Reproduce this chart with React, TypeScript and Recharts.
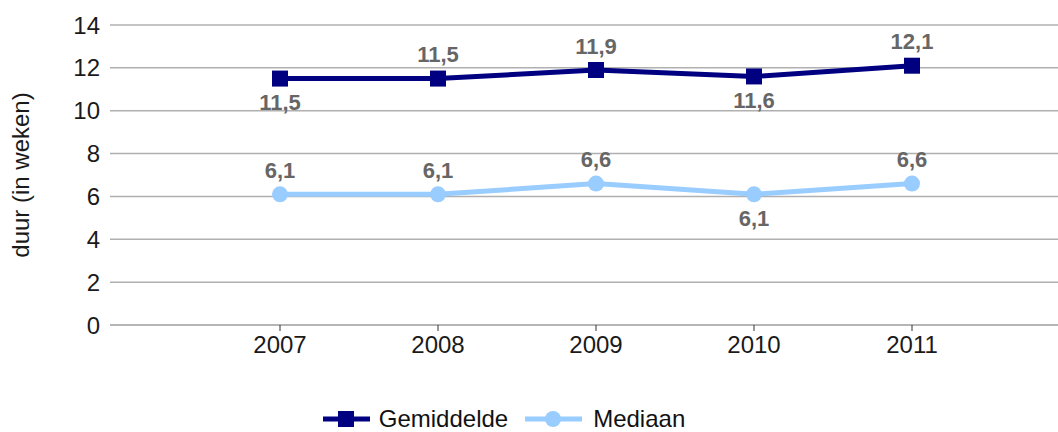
import React from "react";
import {
  LineChart,
  Line,
  XAxis,
  YAxis,
  CartesianGrid,
  Legend,
  Label,
} from "recharts";

const years = ["2007", "2008", "2009", "2010", "2011"];
const gemiddelde = [11.5, 11.5, 11.9, 11.6, 12.1];
const mediaan = [6.1, 6.1, 6.6, 6.1, 6.6];
const yTicks = [0, 2, 4, 6, 8, 10, 12, 14];

// where each value label sits relative to its point
const gemLabelSide = ["below", "above", "above", "below", "above"];
const medLabelSide = ["above", "above", "above", "below", "above"];

const data = years.map((year, i) => ({
  year,
  gemiddelde: gemiddelde[i],
  mediaan: mediaan[i],
}));

const NAVY = "#000080";
const LIGHT = "#99ccff";
const FONT = "'Liberation Sans', Arial, sans-serif";

const fmt = (v: number) => v.toFixed(1).replace(".", ",");

const makeLabel = (sides: string[]) => (props: any) => {
  const { x, y, value, index } = props;
  const dy = sides[index] === "below" ? 24 : -24;
  return (
    <text
      x={x}
      y={y + dy}
      textAnchor="middle"
      dominantBaseline="central"
      fill="#666666"
      fontWeight="bold"
      fontSize={22}
      fontFamily={FONT}
    >
      {fmt(value)}
    </text>
  );
};

const SquareDot = (props: any) => {
  const { cx, cy } = props;
  return <rect x={cx - 8} y={cy - 8} width={16} height={16} fill={NAVY} />;
};

const LegendContent = () => (
  <div
    style={{
      display: "flex",
      alignItems: "center",
      justifyContent: "center",
      fontFamily: FONT,
      fontSize: 24,
      color: "#111",
    }}
  >
    <svg width={47} height={20} style={{ marginRight: 9 }}>
      <line x1={0} y1={10} x2={47} y2={10} stroke={NAVY} strokeWidth={5} />
      <rect x={15} y={2} width={16} height={16} fill={NAVY} />
    </svg>
    <span style={{ marginRight: 17 }}>Gemiddelde</span>
    <svg width={57} height={20} style={{ marginRight: 11 }}>
      <line x1={0} y1={10} x2={57} y2={10} stroke={LIGHT} strokeWidth={5} />
      <circle cx={28} cy={10} r={8} fill={LIGHT} />
    </svg>
    <span>Mediaan</span>
  </div>
);

export default function App() {
  return (
    <div style={{ width: 1058, height: 432, background: "#fff" }}>
      <style>{`body{margin:0}`}</style>
      <LineChart
        width={1058}
        height={432}
        data={data}
        margin={{ top: 25, right: 0, left: 0, bottom: 67 }}
      >
        <CartesianGrid
          vertical={false}
          stroke="#b0b0b0"
          strokeWidth={1.5}
        />
        <XAxis
          dataKey="year"
          padding={{ left: 170, right: 146 }}
          height={40}
          axisLine={{ stroke: "#b0b0b0", strokeWidth: 1.5 }}
          tickLine={{ stroke: "#333" }}
          tickSize={6}
          tickMargin={5}
          tick={{ fill: "#1a1a1a", fontSize: 24, fontFamily: FONT }}
        />
        <YAxis
          domain={[0, 14]}
          ticks={yTicks}
          width={110}
          axisLine={false}
          tickLine={false}
          tickSize={8}
          tickMargin={2}
          tick={{ fill: "#1a1a1a", fontSize: 24, fontFamily: FONT }}
        >
          <Label
            value="duur (in weken)"
            angle={-90}
            position="insideLeft"
            offset={20}
            style={{
              textAnchor: "middle",
              fill: "#1a1a1a",
              fontSize: 24,
              fontFamily: FONT,
            }}
          />
        </YAxis>
        <Legend
          verticalAlign="middle"
          align="center"
          content={<LegendContent />}
          wrapperStyle={{ top: 405, left: 0, width: 1008 }}
        />
        <Line
          dataKey="gemiddelde"
          name="Gemiddelde"
          stroke={NAVY}
          strokeWidth={5}
          dot={<SquareDot />}
          activeDot={false}
          label={makeLabel(gemLabelSide)}
          isAnimationActive={false}
        />
        <Line
          dataKey="mediaan"
          name="Mediaan"
          stroke={LIGHT}
          strokeWidth={5}
          dot={{ r: 8, fill: LIGHT, stroke: LIGHT, strokeWidth: 0 }}
          activeDot={false}
          label={makeLabel(medLabelSide)}
          isAnimationActive={false}
        />
      </LineChart>
    </div>
  );
}
